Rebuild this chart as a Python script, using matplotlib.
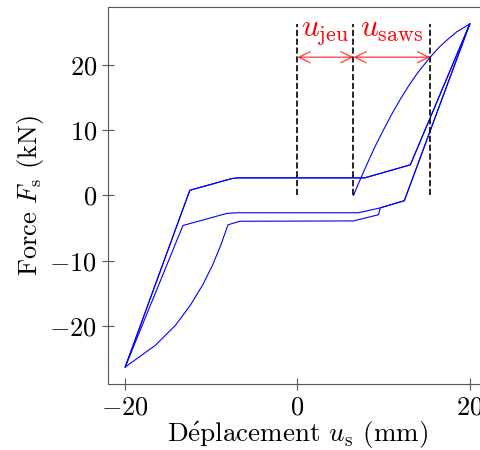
import matplotlib
matplotlib.use("Agg")
from matplotlib import pyplot as plt

plt.rcParams['font.family'] = 'serif'
plt.rcParams['font.serif'] = ['cmr10']
plt.rcParams['mathtext.fontset'] = 'cm'
plt.rcParams['axes.formatter.use_mathtext'] = True
plt.rcParams['axes.unicode_minus'] = True

# premier chargement (courbe) puis déchargement intérieur
first_x = [6.5, 7.0, 7.5, 8.0, 9.0, 10.0, 11.0, 12.0, 13.0, 14.0, 15.4, 16.5, 17.5, 18.5, 20.0]
first_y = [0.0, 1.6, 3.1, 4.6, 7.5, 10.1, 12.6, 14.9, 17.0, 18.9, 21.2, 22.8, 24.0, 25.1, 26.3]
unload1_x = [20.0, 12.4, 9.6, 9.4, 6.5, -6.7, -8.07, -8.9, -9.86, -11.02, -12.44, -14.16,
             -16.49, -20.0]
unload1_y = [26.3, -0.8, -1.9, -2.95, -3.9, -3.95, -4.5, -7.6, -10.68, -13.75, -16.82, -19.89,
             -22.96, -26.3]

# cycles stabilisés
up_x = [-20.0, -12.5, -7.6, -6.9, 7.8, 13.1, 20.0]
up_y = [-26.3, 0.8, 2.6, 2.7, 2.7, 4.7, 26.3]
down_x = [20.0, 12.4, 9.6, 7.6, 7.0, -7.1, -8.2, -13.3, -20.0]
down_y = [26.3, -0.8, -1.9, -2.5, -2.65, -2.65, -2.75, -4.6, -26.3]

# repères
u_marks = [0.0, 6.5, 15.4]
f_max = 26.3
f_arrow = 21.2

fig = plt.figure(figsize=(4.81, 4.5), dpi=100)
ax = fig.add_axes([0.2245, 0.1467, 0.788, 0.8378])

ax.plot(first_x, first_y, color='b', lw=0.8)
ax.plot(unload1_x, unload1_y, color='b', lw=0.8)
ax.plot(up_x, up_y, color='b', lw=0.8)
ax.plot(up_x, up_y, color='b', lw=0.8)
ax.plot(down_x, down_y, color='b', lw=0.8)

for u in u_marks:
    ax.plot([u, u], [0, f_max], color='k', ls='--', lw=1.2, scalex=False, scaley=False)

arrow = dict(arrowstyle='<->', color='red', alpha=0.7, lw=1.0, mutation_scale=20,
             shrinkA=0, shrinkB=0)
ax.annotate('', xy=(u_marks[1], f_arrow), xytext=(u_marks[0], f_arrow), arrowprops=arrow)
ax.annotate('', xy=(u_marks[2], f_arrow), xytext=(u_marks[1], f_arrow), arrowprops=arrow)
ax.text((u_marks[0] + u_marks[1]) / 2, 24.4, r'$u_\mathrm{jeu}$', color='red',
        fontsize=22.5, ha='center', va='baseline')
ax.text((u_marks[1] + u_marks[2]) / 2, 24.4, r'$u_\mathrm{saws}$', color='red',
        fontsize=22.5, ha='center', va='baseline')

ax.set_xlim(-22, 22)
ax.set_ylim(-28.9, 28.9)
ax.set_xticks([-20, 0, 20])
ax.set_yticks([-20, -10, 0, 10, 20])
ax.tick_params(direction='inout', length=9, color='#555555', labelsize=19)
ax.tick_params(axis='x', pad=4)
for s in ax.spines.values():
    s.set_color('#555555')

ax.set_xlabel(r'D$\acute{\mathrm{e}}$placement $u_\mathrm{s}$ (mm)', fontsize=19.5, labelpad=0)
ax.set_ylabel(r'Force $F_\mathrm{s}$ (kN)', fontsize=19, labelpad=2)

fig.savefig('out.png', dpi=100)
